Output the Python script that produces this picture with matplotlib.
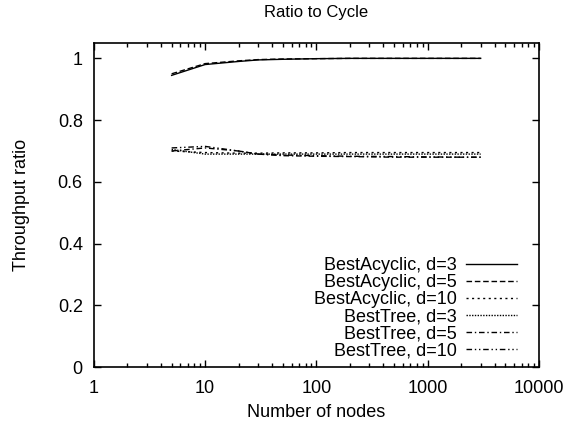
import numpy as np
import matplotlib
matplotlib.use("Agg")
import matplotlib.pyplot as plt

plt.rcParams['font.family'] = ['Liberation Sans', 'DejaVu Sans']

nodes = [5, 10, 20, 30, 50, 100, 200, 500, 1000, 2000, 3000]

acyc_d3 = [0.945, 0.980, 0.990, 0.995, 0.997, 0.999, 1.0, 1.0, 1.0, 1.0, 1.0]
acyc_d5 = [0.950, 0.983, 0.992, 0.996, 0.998, 0.999, 1.0, 1.0, 1.0, 1.0, 1.0]
acyc_d10 = [0.700, 0.695, 0.693, 0.693, 0.694, 0.694, 0.695, 0.695, 0.695, 0.695, 0.695]
tree_d3 = [0.705, 0.690, 0.690, 0.690, 0.690, 0.690, 0.690, 0.690, 0.690, 0.690, 0.690]
tree_d5 = [0.700, 0.710, 0.700, 0.690, 0.685, 0.683, 0.682, 0.680, 0.680, 0.680, 0.680]
tree_d10 = [0.710, 0.715, 0.700, 0.690, 0.687, 0.685, 0.683, 0.682, 0.681, 0.680, 0.680]

labels = ["BestAcyclic, d=3", "BestAcyclic, d=5", "BestAcyclic, d=10",
          "BestTree, d=3", "BestTree, d=5", "BestTree, d=10"]
series = [acyc_d3, acyc_d5, acyc_d10, tree_d3, tree_d5, tree_d10]
styles = ['-', (0, (4, 2)), (0, (1.5, 2.5)), (0, (1, 1)),
          (0, (4, 2, 1, 2)), (0, (4, 2, 1, 2, 1, 2))]

fig = plt.figure(figsize=(5.69, 4.25), dpi=100)
ax = fig.add_axes([0.165, 0.136, 0.782, 0.763])

for ys, lab, ls in zip(series, labels, styles):
    ax.plot(nodes, ys, color='black', linestyle=ls, linewidth=1, label=lab)

ax.set_xscale('log')
ax.set_xlim(1, 10000)
ax.set_ylim(0, 1.05)
ax.set_yticks([0, 0.2, 0.4, 0.6, 0.8, 1.0])
ax.set_yticklabels(['0', '0.2', '0.4', '0.6', '0.8', '1'])
ax.set_xticks([1, 10, 100, 1000, 10000])
ax.set_xticklabels(['1', '10', '100', '1000', '10000'])

ax.tick_params(which='both', direction='in', top=True, right=True, labelsize=13, width=1)
ax.tick_params(which='major', length=5)
ax.tick_params(axis='y', pad=8)
ax.tick_params(axis='x', pad=9)
ax.tick_params(which='minor', length=3)
for s in ax.spines.values():
    s.set_linewidth(1.2)

ax.set_title("Ratio to Cycle", fontsize=12, pad=19)
ax.set_xlabel("Number of nodes", fontsize=13, labelpad=5)
ax.set_ylabel("Throughput ratio", fontsize=13, labelpad=20)

ax.legend(loc='lower right', bbox_to_anchor=(0.951, 0.025), markerfirst=False,
          frameon=False, fontsize=13, handlelength=2.8, handletextpad=0.55,
          labelspacing=0.0, borderpad=0, borderaxespad=0)

fig.savefig("out.png", dpi=100)
